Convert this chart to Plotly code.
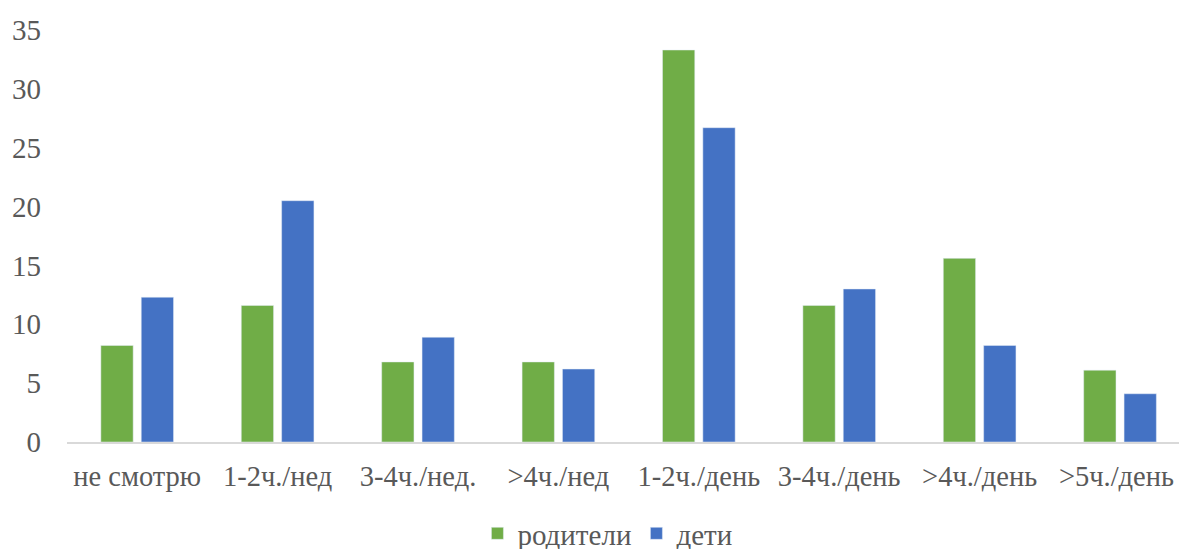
import plotly.graph_objects as go

categories = ["не смотрю", "1-2ч./нед", "3-4ч./нед.", ">4ч./нед", "1-2ч./день", "3-4ч./день", ">4ч./день", ">5ч./день"]
tick_labels = ["не смотрю", "1-2ч./нед", "3-4ч./нед.", ">4ч./нед", "1-2ч./день", "3-4ч./день", ">4ч./день", ">5ч./день\u00a0"]
parents = [8.2, 11.6, 6.8, 6.8, 33.3, 11.6, 15.6, 6.1]
children = [12.3, 20.5, 8.9, 6.2, 26.7, 13.0, 8.2, 4.1]
y_ticks = [0, 5, 10, 15, 20, 25, 30, 35]

font_family = "Liberation Serif, Times New Roman, serif"
text_color = "#595959"
fs = 29

fig = go.Figure()
fig.add_trace(go.Bar(name="родители", x=categories, y=parents, marker_color="#70AD47"))
fig.add_trace(go.Bar(name="дети", x=categories, y=children, marker_color="#4472C4"))

fig.update_layout(
    width=1179, height=549,
    barmode="group", bargap=0.425, bargroupgap=0.2,
    plot_bgcolor="white", paper_bgcolor="white",
    margin=dict(l=67, r=0, t=30, b=107, autoexpand=False),
    font=dict(family=font_family, size=fs, color=text_color),
    showlegend=True,
    legend=dict(orientation="h", x=0.486, xanchor="center", y=-0.222, yanchor="middle",
                font=dict(size=fs, color=text_color), itemwidth=30, tracegroupgap=0),
)
fig.update_xaxes(showline=True, linecolor="#D9D9D9", linewidth=2, ticks="", showgrid=False,
                 range=[-0.5, 7.42], automargin=False,
                 tickvals=categories, ticktext=tick_labels,
                 tickfont=dict(size=28.5, color=text_color), ticklabelstandoff=8)
fig.update_yaxes(range=[0, 35], tickvals=y_ticks, showgrid=False, zeroline=False, showline=False,
                 automargin=False, ticks="", tickfont=dict(size=fs, color=text_color), ticklabelstandoff=25)

fig.write_html("out.html", config={"displayModeBar": False},
               post_script="document.body.style.margin='0';document.body.style.overflow='hidden';")
